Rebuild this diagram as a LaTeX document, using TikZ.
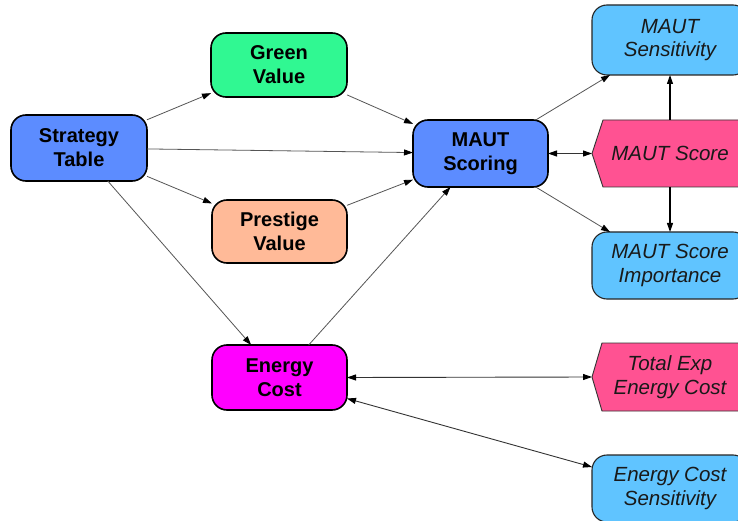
\documentclass[tikz,border=0pt]{standalone}
\usepackage{fontspec}
\setmainfont{Liberation Sans}
\usetikzlibrary{arrows.meta,backgrounds}

\definecolor{stratblue}{RGB}{92,140,255}
\definecolor{greenval}{RGB}{48,248,146}
\definecolor{prestige}{RGB}{255,186,152}
\definecolor{energymag}{RGB}{255,0,255}
\definecolor{scorepink}{RGB}{255,82,146}
\definecolor{outblue}{RGB}{96,196,255}
\definecolor{linkgray}{RGB}{85,85,85}

\tikzset{
  calcbox/.style={draw=black, line width=1.6pt, rounded corners=15pt,
    inner sep=0pt, outer sep=0pt, align=center,
    font=\fontsize{20}{24}\selectfont\bfseries},
  outbox/.style={draw=black!85, line width=1.1pt, rounded corners=15pt,
    fill=outblue, inner sep=0pt, outer sep=0pt, align=center,
    minimum width=156pt, text=black!90,
    font=\fontsize{20.5}{23.5}\selectfont\itshape},
  pinktext/.style={inner sep=0pt, outer sep=0pt, align=center,
    minimum width=156pt, text=black!90,
    font=\fontsize{20.5}{23.5}\selectfont\itshape},
  pinkshape/.style={fill=scorepink, draw=black!80, line width=0.9pt},
  link/.style={draw=linkgray, line width=0.8pt,
    -{Triangle[length=9pt,width=6pt,color=black]}},
  duallink/.style={draw=black!80, line width=0.9pt,
    {Triangle[length=9pt,width=6pt,color=black]}-{Triangle[length=9pt,width=6pt,color=black]}},
  solidlink/.style={draw=black, line width=1.1pt,
    -{Triangle[length=9pt,width=6pt,color=black]}},
}

\begin{document}
\begin{tikzpicture}[x=1pt,y=-1pt]
  \useasboundingbox (0,0) rectangle (738,521);
  \clip (0,0) rectangle (738,521);

  % calculation nodes
  \node[calcbox, fill=stratblue, minimum width=136pt, minimum height=66pt] (strat) at (79,148) {Strategy\\Table};
  \node[calcbox, fill=greenval, minimum width=136pt, minimum height=64pt] (green) at (279,65) {Green\\Value};
  \node[calcbox, fill=prestige, minimum width=135pt, minimum height=63pt] (prest) at (279.5,231.5) {Prestige\\Value};
  \node[calcbox, fill=energymag, minimum width=135pt, minimum height=65pt] (energy) at (279.5,377.5) {Energy\\Cost};
  \node[calcbox, fill=stratblue, minimum width=135pt, minimum height=67pt] (scoring) at (480.5,153.5) {MAUT\\Scoring};

  % output nodes
  \node[outbox, minimum height=70pt] (sens) at (670,40) {MAUT\\Sensitivity};
  \node[outbox, minimum height=67pt] (imp) at (670,265.5) {MAUT Score\\Importance};
  \node[outbox, minimum height=67pt] (ecs) at (670,488.5) {Energy Cost\\Sensitivity};

  % pointed result nodes
  \node[pinktext, minimum height=67pt] (score) at (670,153.5) {MAUT Score};
  \node[pinktext, minimum height=68pt] (total) at (670,377) {Total Exp\\Energy Cost};
  \begin{scope}[on background layer]
    \fill[white] (0,0) rectangle (738,521);
    \filldraw[pinkshape] ([xshift=11pt]score.north west) -- (score.north east)
      -- (score.south east) -- ([xshift=11pt]score.south west) -- (score.west) -- cycle;
    \filldraw[pinkshape] ([xshift=10pt]total.north west) -- (total.north east)
      -- (total.south east) -- ([xshift=10pt]total.south west) -- (total.west) -- cycle;
  \end{scope}

  % connectors
  \draw[link] (strat) -- (green);
  \draw[link] (strat) -- (scoring);
  \draw[link] (strat) -- (prest);
  \draw[link] (strat) -- (energy);
  \draw[link] (green) -- (scoring);
  \draw[link] (prest) -- (scoring);
  \draw[link] (energy) -- (scoring);
  \draw[link] (scoring) -- ([xshift=18pt]sens.south west);
  \draw[link] (scoring) -- ([xshift=18pt]imp.north west);
  \draw[duallink] (scoring.east) -- (score.west);
  \draw[solidlink] (score.north) -- (sens.south);
  \draw[solidlink] (score.south) -- (imp.north);
  \draw[duallink] (energy.east) -- (total.west);
  \draw[duallink] ([yshift=-21pt]energy.east) -- ([yshift=-12pt]ecs.north west);
\end{tikzpicture}
\end{document}
